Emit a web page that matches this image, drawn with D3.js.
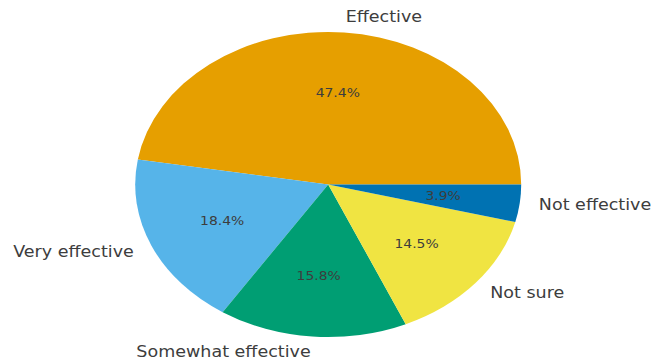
<!DOCTYPE html>
<html><head><meta charset="utf-8">
<script src="https://cdn.jsdelivr.net/npm/d3@7"></script>
<style>body{margin:0;background:#fff}svg{display:block}</style>
</head><body>
<script>
const categories = ["Effective", "Very effective", "Somewhat effective", "Not sure", "Not effective"];
const counts = [36, 14, 12, 11, 3];
const colors = ["#E69F00", "#56B4E9", "#009E73", "#F0E442", "#0072B2"];

const W = 652, H = 362;
const cx = 328.2, cy = 184.5, rx = 193, ry = 152.5;
const sx = rx / ry;
const textStretch = 1.16;

const svg = d3.select("body").append("svg").attr("width", W).attr("height", H);

const total = d3.sum(counts);
const data = categories.map((c, i) => ({ cat: c, v: counts[i], col: colors[i] }));
// matplotlib: start at east, counterclockwise
const pie = d3.pie().value(d => d.v).sort(null)
  .startAngle(Math.PI / 2).endAngle(Math.PI / 2 - 2 * Math.PI);
const arcs = pie(data);
const arc = d3.arc().innerRadius(0).outerRadius(ry);

const g = svg.append("g").attr("transform", `translate(${cx},${cy}) scale(${sx},1)`);
g.selectAll("path").data(arcs).enter().append("path")
  .attr("d", arc).attr("fill", d => d.data.col);

function unitPos(a, k) {
  const mid = (a.startAngle + a.endAngle) / 2;
  return [k * Math.sin(mid), -k * Math.cos(mid)];
}

const labels = svg.append("g");
arcs.forEach(a => {
  const [ux, uy] = unitPos(a, 1.1);
  const px = cx + ux * rx, py = cy + uy * ry;
  labels.append("text")
    .attr("transform", `translate(${px},${py}) scale(${textStretch},1)`)
    .attr("text-anchor", ux > 0 ? "start" : "end")
    .attr("dominant-baseline", "central")
    .attr("font-family", "DejaVu Sans")
    .attr("font-size", 15.1)
    .attr("fill", "#3d3d3d")
    .text(a.data.cat);
  const [vx, vy] = unitPos(a, 0.6);
  labels.append("text")
    .attr("transform", `translate(${cx + vx * rx},${cy + vy * ry}) scale(${textStretch},1)`)
    .attr("text-anchor", "middle")
    .attr("dominant-baseline", "central")
    .attr("font-family", "DejaVu Sans")
    .attr("font-size", 12)
    .attr("fill", "#3d3d3d")
    .text((a.data.v / total * 100).toFixed(1) + "%");
});
</script>
</body></html>
